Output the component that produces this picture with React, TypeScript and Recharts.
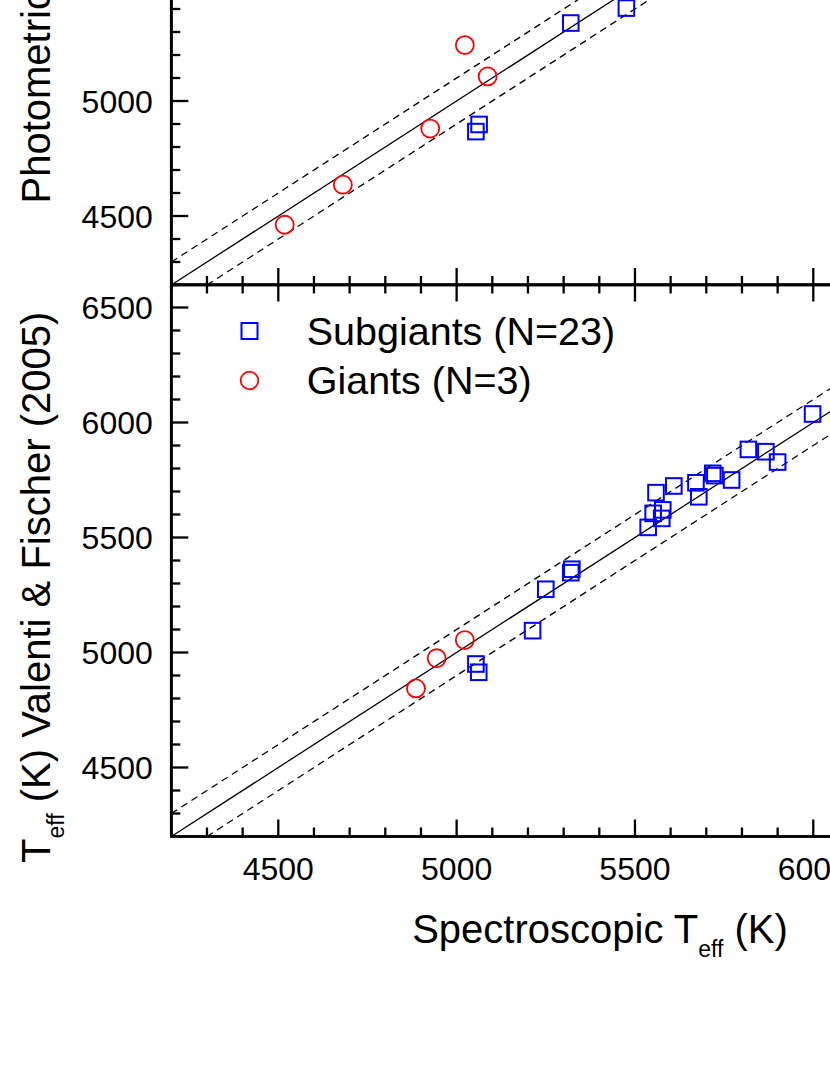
import React from "react"
import {
  ScatterChart,
  Scatter,
  XAxis,
  YAxis,
  ReferenceLine,
  ReferenceArea,
  Legend,
  Label,
} from "recharts"

// Spectroscopic Teff (x) against the comparison Teff (y)
const VF_SUB_SPEC = [5998, 5818, 5867, 5900, 5718, 5724, 5771, 5671, 5679, 5609, 5559, 5578, 5551, 5575, 5537, 5323, 5320, 5250, 5213, 5054, 5062]
const VF_SUB_TEFF = [6037, 5883, 5873, 5828, 5779, 5769, 5750, 5738, 5677, 5724, 5695, 5620, 5605, 5583, 5544, 5362, 5347, 5275, 5095, 4950, 4914]
const VF_GIANT_SPEC = [4886, 4944, 5023]
const VF_GIANT_TEFF = [4844, 4975, 5054]

const PHOT_SUB_SPEC = [5054, 5063, 5320, 5476]
const PHOT_SUB_TEFF = [4867, 4898, 5339, 5404]
const PHOT_GIANT_SPEC = [4518, 4681, 4926, 5023, 5087]
const PHOT_GIANT_TEFF = [4462, 4636, 4880, 5243, 5107]

const SERIES_NAMES = ["Subgiants (N=23)", "Giants (N=3)"]
const DOMAIN: [number, number] = [4200, 6600]
const TICKS = [
  4200, 4300, 4400, 4500, 4600, 4700, 4800, 4900, 5000, 5100, 5200, 5300, 5400,
  5500, 5600, 5700, 5800, 5900, 6000, 6100, 6200, 6300, 6400, 6500, 6600,
]
const BAND = 100 // dashed lines at +/- this many K

const FONT = "'Liberation Sans', Arial, Helvetica, sans-serif"
const BLUE = "#0000ff"
const RED = "#ff0000"

// layout
const CHART_W = 1100
const CHART_H = 1000
const LEFT = 171.3
const PLOT_W = 856
const PLOT_H = 552
const AXIS_H = 60
const SHARED_Y = 284.5 // line between the two panels
const TOP_MARGIN = 20

const zip = (xs: number[], ys: number[]) => xs.map((x, i) => ({ x, y: ys[i] }))

// ticks point inwards, on all four sides; drawn from known plot edges
function makeXTick(axisY: number, showLabel: boolean) {
  return (props: any) => {
    const { x, payload } = props
    const v = payload.value
    const major = v % 500 === 0
    const len = major ? 17 : 9
    return (
      <g>
        <line x1={x} x2={x} y1={axisY} y2={axisY - len} stroke="#000" strokeWidth={2.3} />
        <line x1={x} x2={x} y1={axisY - PLOT_H} y2={axisY - PLOT_H + len} stroke="#000" strokeWidth={2.3} />
        {showLabel && major && (
          <text x={x} y={axisY + 43.5} textAnchor="middle" fontSize={32} fontFamily={FONT} fill="#000">
            {v}
          </text>
        )}
      </g>
    )
  }
}

function YTick(props: any) {
  const { y, payload } = props
  const v = payload.value
  const major = v % 500 === 0
  const len = major ? 17 : 9
  return (
    <g>
      <line x1={LEFT} x2={LEFT + len} y1={y} y2={y} stroke="#000" strokeWidth={2.3} />
      <line x1={LEFT + PLOT_W} x2={LEFT + PLOT_W - len} y1={y} y2={y} stroke="#000" strokeWidth={2.3} />
      {major && (
        <text x={LEFT - 18.5} y={y} dy="0.36em" textAnchor="end" fontSize={32} fontFamily={FONT} fill="#000">
          {v}
        </text>
      )}
    </g>
  )
}

const SquareShape = (p: any) => (
  <rect x={p.cx - 7.8} y={p.cy - 7.8} width={15.6} height={15.6} fill="none" stroke={p.fill} strokeWidth={2} />
)
const CircleShape = (p: any) => (
  <circle cx={p.cx} cy={p.cy} r={9} fill="none" stroke={p.fill} strokeWidth={1.8} />
)

function XTitle(props: any) {
  const { viewBox } = props
  return (
    <text x={viewBox.x + 428.7} y={viewBox.y + 106.5} textAnchor="middle" fontSize={40} fontFamily={FONT} fill="#000">
      Spectroscopic T
      <tspan fontSize={23} dy={14}>eff</tspan>
      <tspan dy={-14}> (K)</tspan>
    </text>
  )
}

function makeYTitle(prefix: string, rest: string, bottomOffset: number) {
  return (props: any) => {
    const { viewBox } = props
    const x = 49.5
    const y = viewBox.y + viewBox.height + bottomOffset
    return (
      <text x={x} y={y} transform={`rotate(-90, ${x}, ${y})`} textAnchor="start" fontSize={40} fontFamily={FONT} fill="#000">
        {prefix}T
        <tspan fontSize={23} dy={14}>eff</tspan>
        <tspan dy={-14}>{rest}</tspan>
      </text>
    )
  }
}

function LegendBox(props: any) {
  const items = [...(props.payload || [])].sort(
    (a: any, b: any) => SERIES_NAMES.indexOf(a.value) - SERIES_NAMES.indexOf(b.value)
  )
  return (
    <svg width={420} height={110} style={{ overflow: "visible" }}>
      {items.map((it: any, i: number) => {
        const cy = i === 0 ? 31 : 80.5
        return (
          <g key={i}>
            {it.type === "circle" ? (
              <circle cx={19.5} cy={cy} r={8.8} fill="none" stroke={it.color} strokeWidth={1.8} />
            ) : (
              <rect x={11.5} y={cy - 8} width={16} height={16} fill="none" stroke={it.color} strokeWidth={2} />
            )}
            <text x={76.7} y={cy + 13.5} fontSize={39.5} fontFamily={FONT} fill="#000">
              {it.value}
            </text>
          </g>
        )
      })}
    </svg>
  )
}

function Panel(props: {
  subs: { x: number; y: number }[]
  giants: { x: number; y: number }[]
  marginTop: number
  xLabels: boolean
  yTitle: (p: any) => React.ReactElement
  legend: boolean
}) {
  const { subs, giants, marginTop, xLabels, yTitle, legend } = props
  const marginBottom = CHART_H - marginTop - PLOT_H - AXIS_H
  return (
    <ScatterChart
      width={CHART_W}
      height={CHART_H}
      margin={{ top: marginTop, right: CHART_W - LEFT - PLOT_W, bottom: marginBottom, left: 0 }}
    >
      <XAxis
        type="number"
        dataKey="x"
        domain={DOMAIN}
        ticks={TICKS}
        interval={0}
        allowDataOverflow
        height={AXIS_H}
        tickLine={false}
        axisLine={{ stroke: "#000", strokeWidth: 2.7 }}
        tick={makeXTick(marginTop + PLOT_H, xLabels)}
      >
        {xLabels && <Label content={XTitle} />}
      </XAxis>
      <YAxis
        type="number"
        dataKey="y"
        domain={DOMAIN}
        ticks={TICKS}
        interval={0}
        allowDataOverflow
        width={LEFT}
        tickLine={false}
        axisLine={{ stroke: "#000", strokeWidth: 2.7 }}
        tick={YTick}
      >
        <Label content={yTitle} />
      </YAxis>
      <ReferenceArea x1={DOMAIN[0]} x2={DOMAIN[1]} y1={DOMAIN[0]} y2={DOMAIN[1]} fill="none" stroke="#000" strokeWidth={2.7} />
      <ReferenceLine
        segment={[{ x: DOMAIN[0], y: DOMAIN[0] }, { x: DOMAIN[1], y: DOMAIN[1] }]}
        stroke="#000"
        strokeWidth={1.3}
      />
      <ReferenceLine
        segment={[{ x: DOMAIN[0], y: DOMAIN[0] + BAND }, { x: DOMAIN[1] - BAND, y: DOMAIN[1] }]}
        stroke="#000"
        strokeWidth={1.3}
        strokeDasharray="7 5"
      />
      <ReferenceLine
        segment={[{ x: DOMAIN[0] + BAND, y: DOMAIN[0] }, { x: DOMAIN[1], y: DOMAIN[1] - BAND }]}
        stroke="#000"
        strokeWidth={1.3}
        strokeDasharray="7 5"
      />
      <Scatter
        name={SERIES_NAMES[0]}
        data={subs}
        fill={BLUE}
        legendType="square"
        shape={SquareShape}
        isAnimationActive={false}
      />
      <Scatter
        name={SERIES_NAMES[1]}
        data={giants}
        fill={RED}
        legendType="circle"
        shape={CircleShape}
        isAnimationActive={false}
      />
      {legend && (
        <Legend
          layout="vertical"
          align="center"
          verticalAlign="middle"
          content={LegendBox}
          wrapperStyle={{ position: "absolute", left: 230, top: 300, width: 420, height: 110 }}
        />
      )}
    </ScatterChart>
  )
}

export default function App() {
  const topOffset = SHARED_Y - TOP_MARGIN - PLOT_H
  return (
    <div
      style={{
        position: "fixed",
        left: 0,
        top: 0,
        width: 830,
        height: 1075,
        overflow: "hidden",
        background: "#fff",
        fontFamily: FONT,
      }}
    >
      <div style={{ position: "absolute", left: 0, top: topOffset }}>
        <Panel
          subs={zip(PHOT_SUB_SPEC, PHOT_SUB_TEFF)}
          giants={zip(PHOT_GIANT_SPEC, PHOT_GIANT_TEFF)}
          marginTop={TOP_MARGIN}
          xLabels={false}
          yTitle={makeYTitle("Photometric ", " (K)", -81.5)}
          legend={false}
        />
      </div>
      <div style={{ position: "absolute", left: 0, top: 0 }}>
        <Panel
          subs={zip(VF_SUB_SPEC, VF_SUB_TEFF)}
          giants={zip(VF_GIANT_SPEC, VF_GIANT_TEFF)}
          marginTop={SHARED_Y}
          xLabels={true}
          yTitle={makeYTitle("", " (K) Valenti & Fischer (2005)", 26.5)}
          legend={true}
        />
      </div>
    </div>
  )
}
